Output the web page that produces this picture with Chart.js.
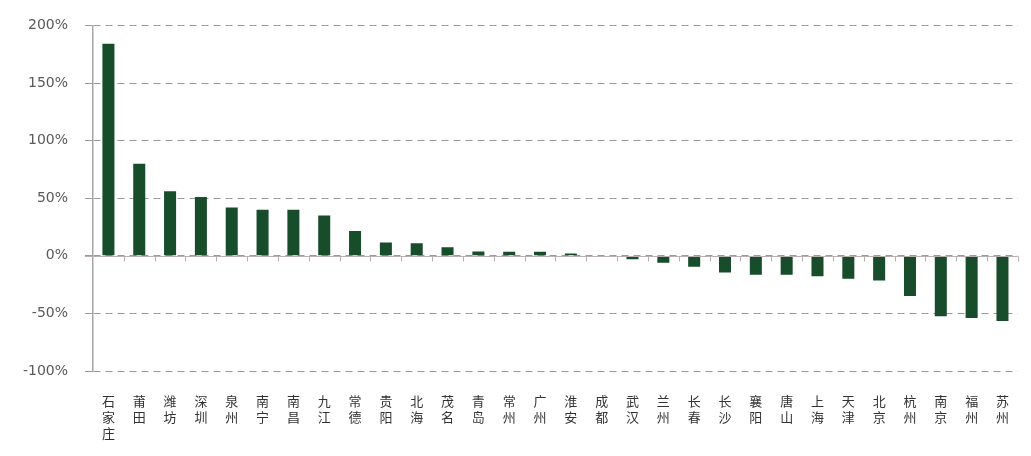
<!DOCTYPE html>
<html>
<head>
<meta charset="utf-8">
<script src="https://cdn.jsdelivr.net/npm/chart.js@4"></script>
<style>
  html, body { margin: 0; padding: 0; background: #fff; overflow: hidden; }
  #wrap { width: 1031px; height: 456px; position: relative; }
</style>
</head>
<body>
<div id="wrap"><canvas id="myChart"></canvas></div>
<script>
const cities = ['石家庄', '莆田', '潍坊', '深圳', '泉州', '南宁', '南昌', '九江', '常德', '贵阳',
  '北海', '茂名', '青岛', '常州', '广州', '淮安', '成都', '武汉', '兰州', '长春',
  '长沙', '襄阳', '唐山', '上海', '天津', '北京', '杭州', '南京', '福州', '苏州'];
const changes = [184, 80, 56, 51, 42, 40, 40, 35, 21.5, 11.5,
  11, 7.5, 3.7, 3.5, 3.5, 2, -0.5, -3, -6, -9.5,
  -14.5, -16.5, -16.5, -17.8, -20, -21.5, -35, -52.5, -54, -56.5];
const yTicks = [200, 150, 100, 50, 0, -50, -100];

// labels are written top to bottom, one character per line
const labels = cities.map(c => c.split(''));

// zero line with small tick marks between categories
const zeroAxis = {
  id: 'zeroAxis',
  afterDatasetsDraw(chart) {
    const { ctx, scales: { x, y }, chartArea } = chart;
    const y0 = Math.round(y.getPixelForValue(0)) + 0.5;
    ctx.save();
    ctx.strokeStyle = '#b8b0b0';
    ctx.lineWidth = 1;
    ctx.setLineDash([]);
    ctx.beginPath();
    ctx.moveTo(chartArea.left - 8, y0);
    ctx.lineTo(chartArea.right, y0);
    for (let i = 1; i <= cities.length; i++) {
      const bx = Math.round(x.getPixelForValue(i - 0.5)) + 0.5;
      ctx.moveTo(bx, y0);
      ctx.lineTo(bx, y0 + 5);
    }
    ctx.stroke();
    ctx.restore();
  }
};

new Chart(document.getElementById('myChart').getContext('2d'), {
  type: 'bar',
  data: {
    labels: labels,
    datasets: [
      {
        data: changes,
        backgroundColor: '#174d2a',
        barPercentage: 0.39,
        categoryPercentage: 1,
      },
    ],
  },
  options: {
    responsive: true,
    maintainAspectRatio: false,
    animation: false,
    layout: { padding: { top: 16, right: 2, left: 0, bottom: 0 } },
    plugins: {
      legend: { display: false },
      tooltip: { enabled: false },
    },
    scales: {
      x: {
        grid: { display: false, drawTicks: false },
        border: { display: false },
        ticks: {
          autoSkip: false,
          maxRotation: 0,
          padding: 22,
          color: '#333333',
          font: { family: '"Noto Sans CJK SC", sans-serif', size: 13, lineHeight: '16px' },
        },
        afterFit(scale) { scale.height = 85; },
      },
      y: {
        min: -100,
        max: 200,
        afterBuildTicks(scale) { scale.ticks = yTicks.map(v => ({ value: v })); },
        afterFit(scale) { scale.width = 93; },
        grid: {
          color: '#9a9a9a',
          tickLength: 8,
          tickColor: '#9a9a9a',
          tickBorderDash: [],
        },
        border: { display: true, color: '#a6a6a6', width: 1.5, dash: [7, 5] },
        ticks: {
          padding: 17,
          color: '#595959',
          font: { family: '"DejaVu Sans", sans-serif', size: 14 },
          callback: v => v + '%',
        },
      },
    },
  },
  plugins: [zeroAxis],
});
</script>
</body>
</html>
